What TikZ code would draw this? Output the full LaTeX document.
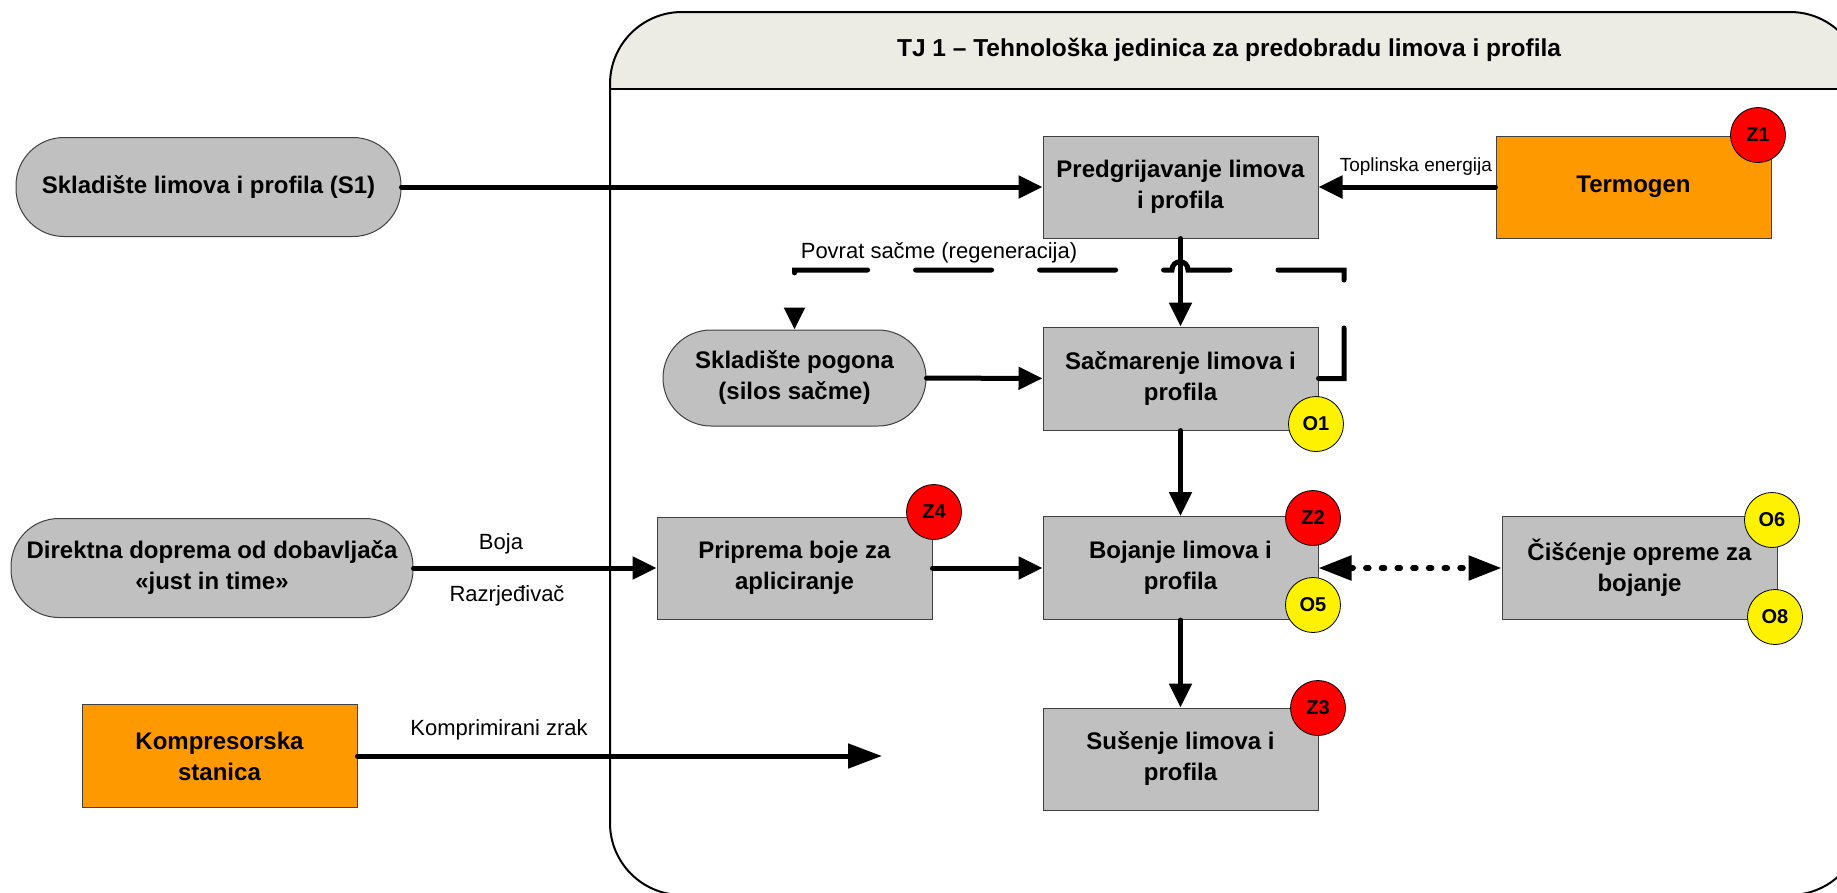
\documentclass[tikz,border=0pt]{standalone}
\usepackage{fontspec}
\setmainfont{Liberation Sans}
\usetikzlibrary{arrows.meta}

\definecolor{boxgray}{RGB}{192,192,192}
\definecolor{boxline}{RGB}{64,64,64}
\definecolor{orangebox}{RGB}{255,153,0}
\definecolor{hdr}{RGB}{236,236,228}

\begin{document}
\begin{tikzpicture}[x=1pt,y=-1pt,
  proc/.style={draw=boxline, fill=boxgray, line width=1pt, minimum width=275pt,
    minimum height=102pt, inner sep=0pt, align=center,
    font=\bfseries\fontsize{24}{31}\selectfont},
  src/.style={proc, fill=orangebox},
  pill/.style={proc, rounded corners=48pt},
  tagz/.style={circle, draw=black, line width=0.8pt, fill=red, minimum size=55pt,
    inner sep=0pt, font=\bfseries\fontsize{20}{24}\selectfont},
  tago/.style={tagz, fill=yellow},
  flow/.style={line width=5pt, line cap=round, -{Triangle[length=24pt,width=22pt]}},
  bigflow/.style={line width=5pt, line cap=round, -{Triangle[length=34pt,width=24pt]}},
  lbl/.style={font=\fontsize{22}{26}\selectfont, inner sep=0pt},
]
\useasboundingbox (0,0) rectangle (1837,892);
\clip (0,0) rectangle (1837,892);

% technological unit frame with its header band
\begin{scope}
  \clip[rounded corners=72pt] (610,900) -- (610,12) -- (1862,12) -- (1862,900) -- cycle;
  \fill[hdr] (600,0) rectangle (1870,89);
\end{scope}
\draw[line width=2pt, rounded corners=72pt] (610,895) -- (610,12) -- (1862,12) -- (1862,895) -- cycle;
\draw[line width=2pt] (610,89) -- (1862,89);
\node[font=\bfseries\fontsize{24.5}{28}\selectfont] (title) at (1229,50)
  {TJ 1 – Tehnološka jedinica za predobradu limova i profila};

% process steps and supplies
\node[pill, minimum width=385pt, minimum height=99pt] (s1) at (208.5,187) {Skladište limova i profila (S1)};
\node[proc] (pred) at (1180.5,187) {Predgrijavanje limova\\i profila};
\node[src] (term) at (1633.5,187) {Termogen};
\node[pill, minimum width=263pt, minimum height=96pt] (silo) at (794.5,378) {Skladište pogona\\(silos sačme)};
\node[proc, minimum height=103pt] (sac) at (1180.5,378.5) {Sačmarenje limova i\\profila};
\node[pill, minimum width=402pt, minimum height=99pt] (dir) at (212,568) {Direktna doprema od dobavljača\\«just in time»};
\node[proc] (prip) at (794.5,568) {Priprema boje za\\apliciranje};
\node[proc, minimum height=103pt] (boj) at (1180.5,568) {Bojanje limova i\\profila};
\node[proc, minimum height=103pt] (cis) at (1639.5,568) {Čišćenje opreme za\\bojanje};
\node[proc] (sus) at (1180.5,759) {Sušenje limova i\\profila};
\node[src, minimum height=103pt] (komp) at (219.5,756) {Kompresorska\\stanica};
\coordinate (airend) at (882,756);

% flows
\draw[flow] (s1) -- (pred);
\draw[flow] (term) -- node[pos=0.45, above=9pt, font=\fontsize{19}{23}\selectfont, inner sep=0pt] {Toplinska energija} (pred);
\draw[flow] (pred) -- (sac);
\draw[flow] (silo) -- (sac);
\draw[flow] (sac) -- (boj);
\draw[flow] (dir) -- node[lbl, pos=0.36, above=11pt] {Boja} node[lbl, pos=0.385, below=15pt] {Razrjeđivač} (prip);
\draw[flow] (prip) -- (boj);
\draw[flow] (boj) -- (sus);
\draw[line width=5.5pt, line cap=round, dash pattern=on 3pt off 12.7pt,
  {Triangle[length=33pt,width=24pt]}-{Triangle[length=33pt,width=24pt]}] (boj) -- (cis);
\draw[bigflow] (komp) -- node[lbl, pos=0.27, above=13pt] {Komprimirani zrak} (airend);

% shot return loop, hopping over the vertical flow
\draw[line width=5pt, line cap=round, dash pattern=on 76pt off 48pt,
  -{Triangle[length=22pt,width=20pt]}]
  (sac.east) -- (1344,378.5) -- (1344,270) -- (1188,270)
  .. controls (1188,259) and (1172,259) .. (1172,270) -- (794.5,270) -- (silo.north);
\node[lbl] (povrat) at (939,253) {Povrat sačme (regeneracija)};

% hazard and waste markers
\node[tagz] (z1) at (1758,135) {Z1};
\node[tago] (o1) at (1316,424) {O1};
\node[tagz] (z4) at (934,512) {Z4};
\node[tagz] (z2) at (1313,518) {Z2};
\node[tago] (o5) at (1313,605) {O5};
\node[tago] (o6) at (1772,520) {O6};
\node[tago] (o8) at (1775,617) {O8};
\node[tagz] (z3) at (1318,708) {Z3};
\end{tikzpicture}
\end{document}
